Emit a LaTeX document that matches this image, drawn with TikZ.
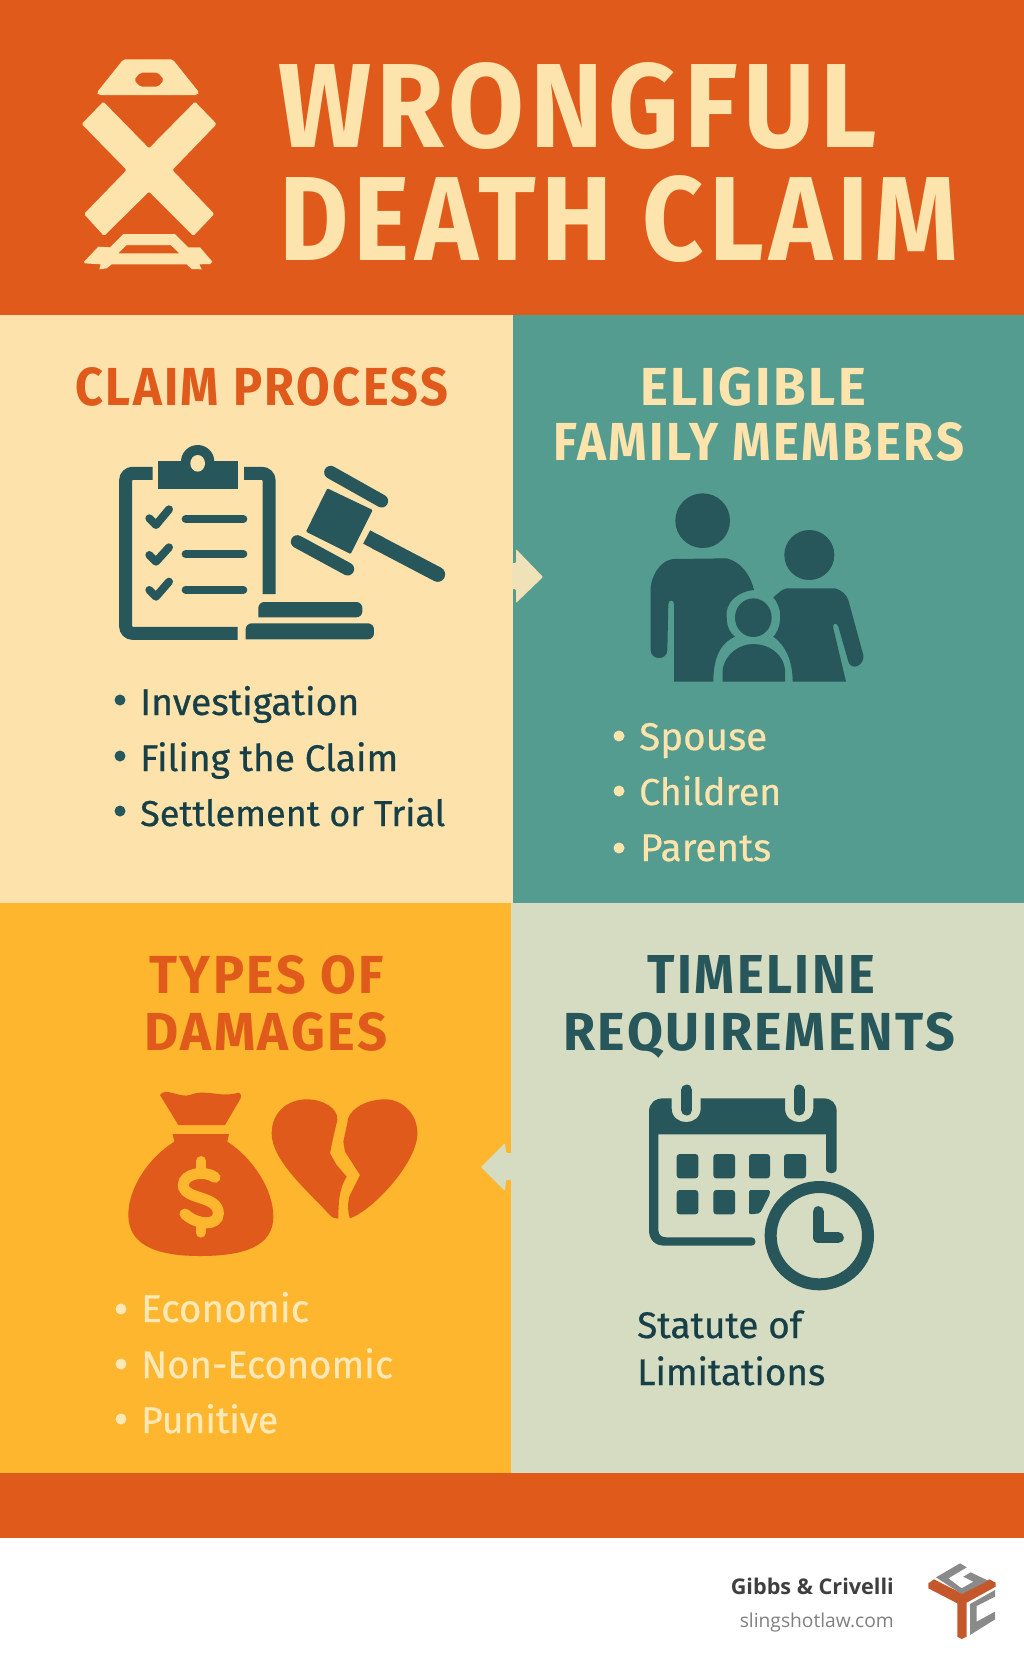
\documentclass[tikz,border=0pt]{standalone}
\usepackage{fontspec}
\usepackage{graphicx}
\setmainfont{Fira Sans}
\newfontfamily\footfont{Open Sans}
\definecolor{brand}{HTML}{DF5A1B}
\definecolor{cream}{HTML}{FDE2AC}
\definecolor{creamtext}{HTML}{FDE3AC}
\definecolor{teal}{HTML}{549C90}
\definecolor{amber}{HTML}{FDB62E}
\definecolor{sage}{HTML}{D5DCC1}
\definecolor{ink}{HTML}{27565B}
\definecolor{bodyink}{HTML}{163F47}
\definecolor{arrowa}{HTML}{F0E2B8}
\definecolor{palecream}{HTML}{FDE9B8}
\definecolor{logoor}{HTML}{C4582A}
\definecolor{logogr}{HTML}{8A8A8A}
\definecolor{footdark}{HTML}{3F3F3F}
\definecolor{footgray}{HTML}{808080}
\newcommand{\headtext}[7]{\node[anchor=base west,inner sep=0pt,text=#6] (#1) at (#2,#3) {\resizebox{#4pt}{#5pt}{\fontsize{40}{48}\selectfont\bfseries\addfontfeature{LetterSpace=5}#7}};}
\newcommand{\bodytext}[6]{\node[anchor=base west,inner sep=0pt,text=#5] (#1) at (#2,#3) {\resizebox{#4pt}{!}{\fontsize{36}{44}\selectfont\addfontfeature{FakeBold=0.6}#6}};}
\tikzset{
  dot/.style={circle,inner sep=0pt,minimum size=11pt},
  inkline/.style={draw=ink,line cap=round},
  brandfill/.style={fill=brand,draw=none},
  creamfill/.style={fill=creamtext,draw=none,even odd rule},
  zoomA/.style={shift={(60,30)},x=0.33333pt,y=-0.33333pt},
  zoomB/.style={shift={(100,430)},x=0.33333pt,y=-0.33333pt},
  zoomC/.style={shift={(630,480)},x=0.33333pt,y=-0.33333pt},
  zoomD/.style={shift={(110,1070)},x=0.33333pt,y=-0.33333pt},
  zoomE/.style={shift={(630,1070)},x=0.33333pt,y=-0.33333pt},
  zoomF/.style={shift={(700,1540)},x=0.33333pt,y=-0.33333pt},
}
\begin{document}
\begin{tikzpicture}[x=1pt,y=-1pt]
\useasboundingbox (0,0) rectangle (1024,1666);
% panels and bands
\fill[white] (0,0) rectangle (1024,1666);
\fill[brand] (0,0) rectangle (1024,315);
\fill[cream] (0,315) rectangle (513,903);
\fill[teal] (513,315) rectangle (1024,903);
\fill[amber] (0,903) rectangle (511,1473);
\fill[sage] (511,903) rectangle (1024,1473);
\fill[brand] (0,1473) rectangle (1024,1538);
% connecting arrows
\fill[arrowa,rounded corners=1pt] (512,563) -- (516,563) -- (516,549) -- (543,577) -- (516,603) -- (516,589) -- (512,589) -- cycle;
\fill[sage,rounded corners=1pt] (512,1153) -- (506,1153) -- (505,1143) -- (481,1167) -- (505,1191) -- (506,1180) -- (512,1180) -- cycle;
% header icon
\begin{scope}[zoomA]
\fill[creamfill,rounded corners=2pt] (190,88) -- (338,88) -- (418,188) -- (412,195) -- (115,195) -- (110,188) -- cycle
  (240,128) -- (295,128) -- (312,150) -- (295,170) -- (240,170) -- (222,150) -- cycle;
\fill[creamfill,rounded corners=1.5pt] (130,215) -- (65,282) -- (200,420) -- (72,552) -- (132,618) -- (267,485) -- (400,618) -- (463,552) -- (337,420) -- (470,282) -- (405,215) -- (267,355) -- cycle;
\fill[creamfill] (190,612) -- (345,612) -- (385,652) -- (420,652) -- (457,695) -- (450,702) -- (418,703) -- (425,718) -- (395,717) -- (380,703) -- (155,703) -- (140,715) -- (118,718) -- (122,703) -- (75,700) -- (72,695) -- (115,650) -- (150,652) -- cycle
  (200,645) -- (332,645) -- (358,670) -- (175,670) -- cycle;
\end{scope}
% header text
\headtext{ttlA}{278}{147}{599}{85}{creamtext}{WRONGFUL}
\headtext{ttlB}{279}{260}{679}{85}{creamtext}{DEATH CLAIM}
% panel headings
\headtext{hdA}{75}{405}{373}{38}{brand}{CLAIM PROCESS}
\headtext{hdB}{640}{405}{226}{38}{creamtext}{ELIGIBLE}
\headtext{hdC}{553}{460}{411}{38}{creamtext}{FAMILY MEMBERS}
\headtext{hdD}{149}{993}{235}{38}{brand}{TYPES OF}
\headtext{hdE}{144}{1050}{243}{38}{brand}{DAMAGES}
\headtext{hdF}{647}{993}{228}{38}{ink}{TIMELINE}
\headtext{hdG}{563}{1050}{392}{38}{ink}{REQUIREMENTS}
% bullet lists
\node[dot,fill=ink] (bA) at (120,700) {};
\node[dot,fill=ink] (bB) at (120,756) {};
\node[dot,fill=ink] (bC) at (120,811) {};
\bodytext{itA}{140}{715}{219}{bodyink}{Investigation}
\bodytext{itB}{140}{771}{258}{bodyink}{Filing the Claim}
\bodytext{itC}{140}{826}{305}{bodyink}{Settlement or Trial}
\node[dot,fill=creamtext] (bD) at (619,736) {};
\node[dot,fill=creamtext] (bE) at (619,791) {};
\node[dot,fill=creamtext] (bF) at (619,848) {};
\bodytext{itD}{639}{750}{128}{creamtext}{Spouse}
\bodytext{itE}{639}{805}{142}{creamtext}{Children}
\bodytext{itF}{640}{861}{131}{creamtext}{Parents}
\node[dot,fill=palecream] (bG) at (121,1309) {};
\node[dot,fill=palecream] (bH) at (121,1364) {};
\node[dot,fill=palecream] (bI) at (121,1419) {};
\bodytext{itG}{141}{1322}{168}{palecream}{Economic}
\bodytext{itH}{141}{1378}{252}{palecream}{Non-Economic}
\bodytext{itI}{141}{1433}{137}{palecream}{Punitive}
\bodytext{itJ}{637}{1338}{165}{bodyink}{Statute of}
\bodytext{itK}{637}{1385}{188}{bodyink}{Limitations}
% clipboard and gavel
\begin{scope}[zoomB]
\draw[ink,line width=13pt,rounded corners=7pt] (158,130) -- (77,130) -- (77,610) -- (413,610);
\draw[ink,line width=13pt,rounded corners=7pt] (432,130) -- (507,130) -- (507,492);
\fill[ink] (174,92) rectangle (414,178);
\fill[ink] (293,95) circle (50);
\fill[cream] (293,100) ellipse (22 and 25);
\foreach \a/\b/\c in {265/285/238,375/395/352,480/500/455}{
  \draw[inkline,line width=8pt,line join=round] (148,\a) -- (168,\b) -- (207,\c);
}
\foreach \a in {267,372,479}{
  \draw[inkline,line width=8pt] (257,\a) -- (430,\a);
}
\fill[ink,rounded corners=1pt] (682,175) -- (818,240) -- (752,372) -- (618,305) -- cycle;
\draw[inkline,line width=13pt] (692,127) -- (845,213);
\draw[inkline,line width=13pt] (592,335) -- (743,417);
\draw[ink,line width=15pt] (800,321) -- (840,342);
\draw[inkline,line width=15pt] (830,337) -- (1013,433);
\fill[ink,rounded corners=6pt] (475,562) -- (475,516) -- (787,516) -- (787,562) [sharp corners] -- cycle;
\fill[ink,rounded corners=6pt] (437,628) -- (437,580) -- (822,580) -- (822,628) [sharp corners] -- cycle;
\end{scope}
% family
\begin{scope}[zoomC]
\fill[ink] (218,122) circle (82);
\fill[ink] (538,225) circle (75);
\fill[ink] (370,413) ellipse (55 and 58);
\fill[ink] (62,320) .. controls (70,270) and (100,240) .. (130,237) -- (290,235) .. controls (330,245) and (360,280) .. (372,330)
  .. controls (320,335) and (285,370) .. (290,410) .. controls (290,440) and (300,460) .. (315,470)
  .. controls (280,485) and (250,520) .. (250,605) -- (132,605) -- (132,372) .. controls (132,358) and (115,358) .. (115,372)
  -- (112,510) .. controls (112,542) and (62,542) .. (62,510) -- cycle;
\fill[ink] (430,352) .. controls (445,340) and (455,328) .. (470,325) -- (615,325) .. controls (635,330) and (650,345) .. (655,360)
  -- (700,525) .. controls (705,555) and (665,575) .. (655,545) -- (625,440) .. controls (620,425) and (605,430) .. (610,445)
  -- (648,605) -- (488,605) .. controls (488,540) and (465,495) .. (430,470) .. controls (450,450) and (465,395) .. (430,352) -- cycle;
\fill[ink] (278,605) -- (278,570) .. controls (285,520) and (330,492) .. (370,492) .. controls (415,492) and (460,520) .. (465,570) -- (465,605) -- cycle;
\end{scope}
% money bag and heart
\begin{scope}[zoomD]
\fill[brand] (150,75) .. controls (165,50) and (210,85) .. (240,75) .. controls (290,55) and (330,85) .. (385,68) .. controls (395,70) and (393,80) .. (392,85)
  -- (345,165) -- (205,165) -- cycle;
\fill[brand] (188,192) -- (357,192) -- (352,215) .. controls (430,265) and (490,360) .. (490,440) .. controls (490,530) and (400,558) .. (270,558)
  .. controls (130,558) and (55,520) .. (55,435) .. controls (55,350) and (120,260) .. (193,215) -- cycle;
\draw[amber,line width=11pt,line cap=round] (315,322) .. controls (285,300) and (220,310) .. (220,345) .. controls (220,390) and (325,375) .. (325,430) .. controls (325,470) and (260,465) .. (225,432);
\draw[amber,line width=10pt,line cap=round] (274,273) -- (274,300);
\draw[amber,line width=10pt,line cap=round] (272,465) -- (272,488);
\fill[brand] (680,445) .. controls (665,445) and (660,435) .. (650,425) .. controls (590,360) and (485,270) .. (485,190)
  .. controls (485,125) and (535,88) .. (590,88) .. controls (640,88) and (685,115) .. (682,150) -- (668,210) -- (660,250) -- (680,285) -- (710,320)
  .. controls (695,345) and (685,370) .. (685,445) -- cycle;
\fill[brand] (720,445) .. controls (710,420) and (715,385) .. (720,375) -- (750,315) -- (705,245) -- (700,215) -- (712,160)
  .. controls (710,125) and (760,88) .. (825,88) .. controls (880,88) and (925,135) .. (922,195) .. controls (918,280) and (790,420) .. (720,445) -- cycle;
\end{scope}
% calendar and clock
\begin{scope}[zoomE]
\fill[ink] (57,125) .. controls (57,100) and (75,85) .. (100,85) -- (125,85) -- (125,115) .. controls (125,170) and (212,170) .. (212,115) -- (212,85) -- (465,85) -- (465,115)
  .. controls (465,170) and (550,170) .. (550,115) -- (550,85) -- (580,85) .. controls (605,85) and (620,100) .. (620,125) -- (620,295)
  .. controls (620,315) and (588,315) .. (588,295) -- (588,193) -- (85,193) -- (85,480) .. controls (85,495) and (95,502) .. (110,502) -- (365,502)
  .. controls (380,502) and (380,527) .. (365,527) -- (105,527) .. controls (75,527) and (57,510) .. (57,480) -- cycle;
\draw[inkline,line width=11pt] (170,60) -- (170,120);
\draw[inkline,line width=11pt] (507,60) -- (507,120);
\foreach \a/\b in {140/205,250/315,357/420,462/528}{
  \fill[ink,rounded corners=3pt] (\a,252) rectangle (\b,325);
}
\foreach \a/\b in {140/205,250/315}{
  \fill[ink,rounded corners=3pt] (\a,360) rectangle (\b,433);
}
\fill[ink,rounded corners=2pt] (357,360) -- (420,360) -- (420,372) -- (390,430) -- (357,433) -- cycle;
\draw[ink,line width=12pt] (568,497) circle (146);
\draw[ink,line width=11pt,line cap=round,line join=round] (565,425) -- (565,503) -- (625,503);
\end{scope}
% footer
\node[anchor=base east,inner sep=0pt,text=footdark] (ftA) at (894,1594) {\resizebox{163pt}{!}{\fontsize{24}{28}\selectfont\footfont\bfseries Gibbs \& Crivelli}};
\node[anchor=base east,inner sep=0pt,text=footgray] (ftB) at (894,1627) {\resizebox{154pt}{!}{\fontsize{24}{28}\selectfont\footfont slingshotlaw.com}};
\begin{scope}[zoomF]
\fill[logoor] (685,130) -- (702,118) -- (785,160) -- (868,118) -- (887,128) -- (887,140) -- (800,188) -- (800,290) -- (785,297) -- (772,290) -- (772,190) -- (685,145) -- cycle;
\fill[logogr] (708,112) -- (780,70) -- (800,82) -- (745,115) -- (785,145) -- (820,125) -- (790,110) -- (812,97) -- (865,122) -- (785,162) -- cycle;
\fill[logogr] (810,192) -- (885,150) -- (885,170) -- (830,198) -- (830,245) -- (885,215) -- (885,238) -- (810,285) -- cycle;
\end{scope}
\end{tikzpicture}
\end{document}
